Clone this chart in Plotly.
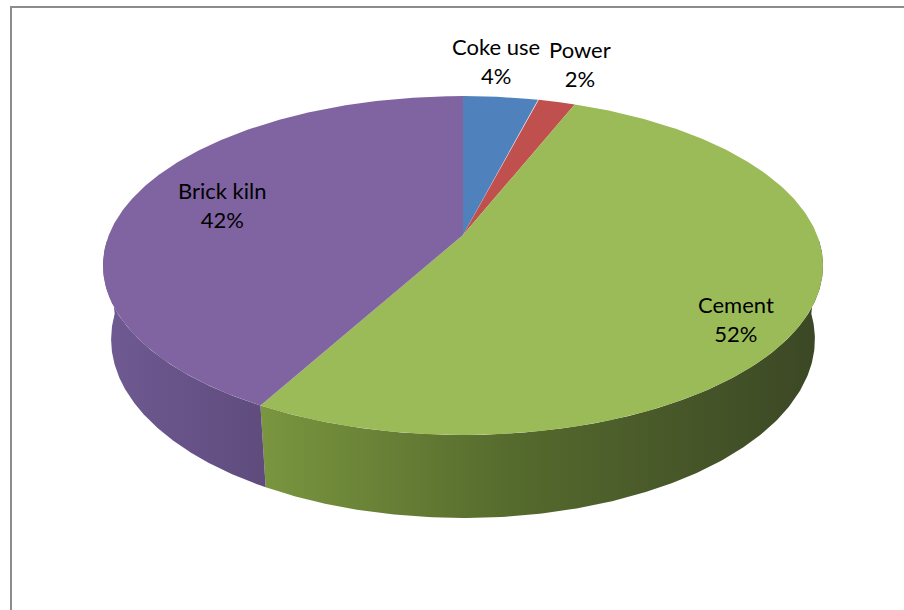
import numpy as np
import plotly.graph_objects as go

# ---- data ----
categories = ["Coke use", "Power", "Cement", "Brick kiln"]
values = [4, 2, 52, 42]
top_colors = ["#4F81BD", "#C0504D", "#9BBB59", "#8064A2"]
wall_scales = [
    [[0, "#43699A"], [1, "#2F4868"]],
    [[0, "#9C403D"], [1, "#6E2D2B"]],
    [[0, "#7A963F"], [0.45, "#556A2D"], [1, "#3B4725"]],
    [[0, "#6F5A92"], [1, "#5F4C7D"]],
]
label_pos = [(496, 61), (580, 64), (736, 319), (222, 205)]

# ---- projection (3D pie seen in perspective) ----
W, H = 904, 610
CX, CY = 463, 235
sin_a = 0.463
cos_a = np.sqrt(1 - sin_a ** 2)
D = cos_a / 0.18
F = 360 * D / 1.0166
DEPTH = 0.237


def project(theta_deg, r=1.0, z=0.0):
    t = np.radians(theta_deg)
    X = r * np.sin(t)
    Y = r * np.cos(t)
    u = X
    v = Y * sin_a + z * cos_a
    w = -Y * cos_a + z * sin_a
    den = D - w
    return CX + F * u / den, CY - F * v / den


total = float(sum(values))
bounds = np.concatenate([[0], np.cumsum(values)]) / total * 360.0

fig = go.Figure()

# walls (outer cylinder, front part)
vis_lo, vis_hi = 92.0, 268.0
for i, cat in enumerate(categories):
    a0, a1 = max(bounds[i], vis_lo), min(bounds[i + 1], vis_hi)
    if a1 <= a0:
        continue
    th = np.linspace(a0, a1, 200)
    tx, ty = project(th, 1.0, 0.0)
    bx, by = project(th[::-1], 1.0, -DEPTH)
    xs = np.concatenate([tx, bx, tx[:1]])
    ys = np.concatenate([ty, by, ty[:1]])
    fig.add_trace(go.Scatter(
        x=xs, y=ys, mode="lines", fill="toself",
        line=dict(width=0, color=top_colors[i]),
        fillgradient=dict(type="horizontal", colorscale=wall_scales[i],
                          start=float(xs.min()), stop=float(xs.max())),
        hoverinfo="skip", showlegend=False))

# top faces
for i, cat in enumerate(categories):
    th = np.linspace(bounds[i], bounds[i + 1], 300)
    tx, ty = project(th, 1.0, 0.0)
    ox, oy = project(0.0, 0.0, 0.0)
    xs = np.concatenate([[ox], tx, [ox]])
    ys = np.concatenate([[oy], ty, [oy]])
    fig.add_trace(go.Scatter(
        x=xs, y=ys, mode="lines", fill="toself",
        fillcolor=top_colors[i], line=dict(width=0, color=top_colors[i]),
        hoverinfo="skip", showlegend=False))

# labels
for i, cat in enumerate(categories):
    pct = round(values[i] / total * 100)
    fig.add_annotation(x=label_pos[i][0], y=label_pos[i][1],
                       text=f"{cat}<br>{pct}%", showarrow=False,
                       font=dict(family="Lato, Carlito, sans-serif", size=22, color="#000000"),
                       xanchor="center", yanchor="middle", align="center")

# chart area border
fig.add_shape(type="rect", xref="paper", yref="paper",
              x0=11 / W, x1=1.2, y0=-0.2, y1=1 - 7 / H,
              line=dict(color="#8C8C8C", width=2), fillcolor="rgba(0,0,0,0)", layer="below")

fig.update_layout(
    width=W, height=H, margin=dict(l=0, r=0, t=0, b=0),
    paper_bgcolor="white", plot_bgcolor="white",
    xaxis=dict(range=[0, W], visible=False, fixedrange=True),
    yaxis=dict(range=[H, 0], visible=False, fixedrange=True),
    showlegend=False,
)
fig.write_html("out.html")
